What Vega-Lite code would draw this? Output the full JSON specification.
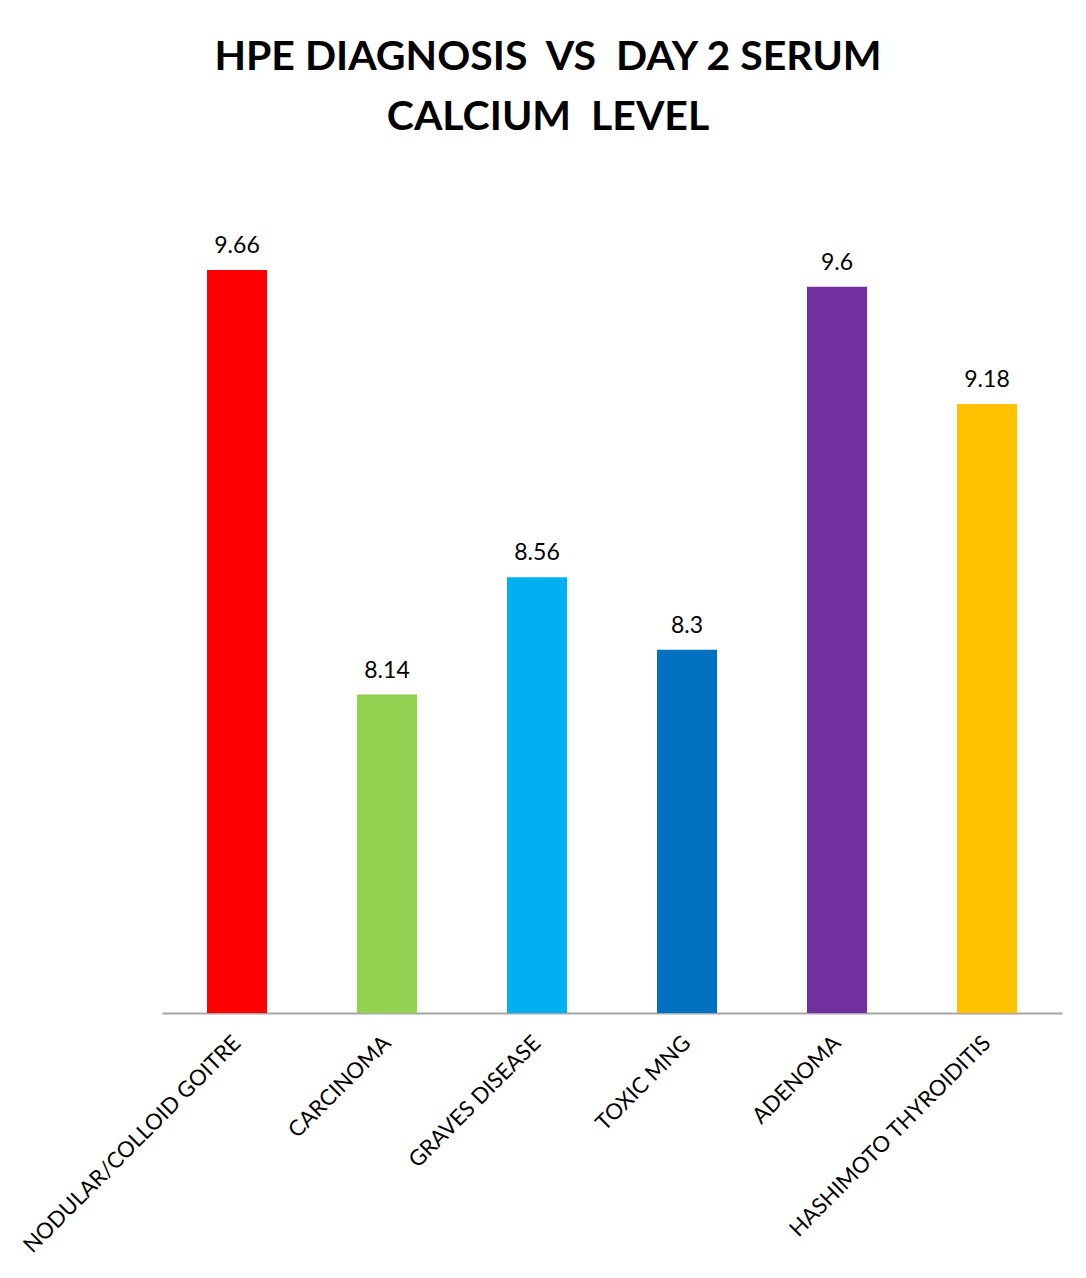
{
  "$schema": "https://vega.github.io/schema/vega-lite/v6.json",
  "width": 900,
  "height": 838,
  "autosize": {"type": "none"},
  "padding": {"left": 162, "top": 175, "right": 24, "bottom": 265},
  "background": "white",
  "title": {
    "text": ["HPE DIAGNOSIS \u00a0VS \u00a0DAY 2 SERUM", "CALCIUM \u00a0LEVEL"],
    "font": "Lato",
    "fontSize": 41,
    "fontWeight": "bold",
    "color": "#000000",
    "lineHeight": 60,
    "anchor": "middle",
    "dx": -64,
    "offset": 36
  },
  "data": {
    "values": [
      {"diagnosis": "NODULAR/COLLOID GOITRE", "calcium": 9.66},
      {"diagnosis": "CARCINOMA", "calcium": 8.14},
      {"diagnosis": "GRAVES DISEASE", "calcium": 8.56},
      {"diagnosis": "TOXIC MNG", "calcium": 8.3},
      {"diagnosis": "ADENOMA", "calcium": 9.6},
      {"diagnosis": "HASHIMOTO THYROIDITIS", "calcium": 9.18}
    ]
  },
  "encoding": {
    "x": {
      "field": "diagnosis",
      "type": "nominal",
      "sort": null,
      "scale": {"paddingInner": 0.6, "paddingOuter": 0.3},
      "axis": {
        "title": null,
        "labelAngle": -45,
        "labelAlign": "right",
        "labelBaseline": "middle",
        "labelFont": "Lato",
        "labelFontSize": 22,
        "labelColor": "#000000",
        "labelPadding": 26,
        "labelLimit": 0,
        "ticks": false,
        "domainColor": "#a6a6a6",
        "domainWidth": 2
      }
    },
    "y": {
      "field": "calcium",
      "type": "quantitative",
      "scale": {"domain": [7, 10], "zero": false, "nice": false},
      "axis": null
    }
  },
  "layer": [
    {
      "mark": {"type": "bar", "clip": true},
      "encoding": {
        "color": {
          "field": "diagnosis",
          "type": "nominal",
          "sort": null,
          "scale": {
            "domain": ["NODULAR/COLLOID GOITRE", "CARCINOMA", "GRAVES DISEASE", "TOXIC MNG", "ADENOMA", "HASHIMOTO THYROIDITIS"],
            "range": ["#FF0000", "#92D050", "#00B0F0", "#0070C0", "#7030A0", "#FFC000"]
          },
          "legend": null
        }
      }
    },
    {
      "mark": {"type": "text", "font": "Lato", "fontSize": 23, "color": "#000000", "baseline": "bottom", "dy": -12},
      "encoding": {
        "text": {"field": "calcium", "type": "quantitative"}
      }
    }
  ],
  "config": {"view": {"stroke": null}}
}
